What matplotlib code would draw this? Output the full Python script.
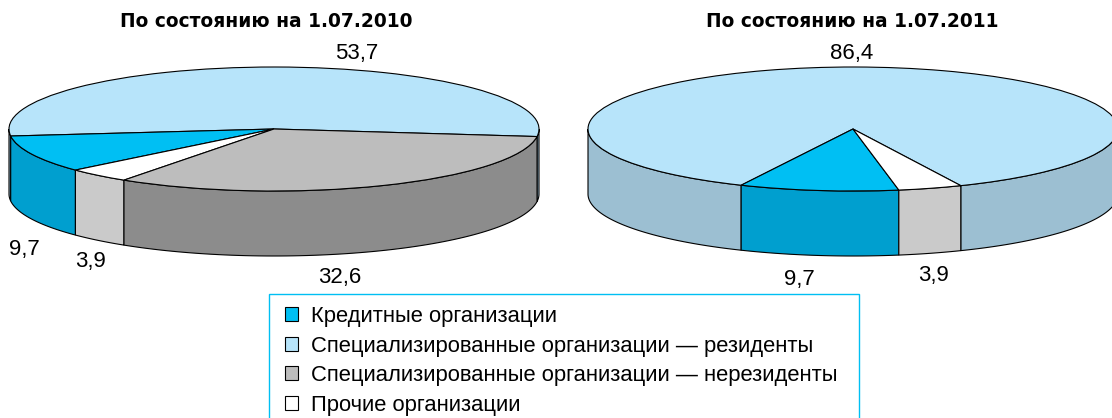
#!/usr/bin/env python3
# -*- coding: utf-8 -*-

import numpy as np
import matplotlib
matplotlib.use('Agg')
import matplotlib.pyplot as plt
from matplotlib.patches import Patch, Rectangle

# Data
categories = ['Кредитные организации',
              'Специализированные организации — резиденты',
              'Специализированные организации — нерезиденты',
              'Прочие организации']
shares_2010 = [9.7, 53.7, 32.6, 3.9]
shares_2011 = [9.7, 86.4, 0, 3.9]
title_2010 = 'По состоянию на 1.07.2010'
title_2011 = 'По состоянию на 1.07.2011'

top_colors = ['#00BFF3', '#B7E4FA', '#BDBDBD', '#FFFFFF']
wall_colors = ['#009FCF', '#9CBFD2', '#8C8C8C', '#CACACA']

W, H = 1112, 418
RX, RY, DEPTH = 265, 62, 65
# pie runs counterclockwise: residents, credit, others, non-residents
PIE_ORDER = [1, 0, 3, 2]

plt.rcParams['font.family'] = ['Liberation Sans', 'DejaVu Sans']
fig = plt.figure(figsize=(W / 100, H / 100), dpi=100)


def put_text(x, y, s, **kw):
    fig.text(x / W, 1 - y / H, s, ha='center', va='center', **kw)


def draw_pie(cx, cy, values, start):
    # axes in which the unit circle comes out as the flattened top of the pie
    y_low = -1 - DEPTH / RY - 0.05
    left = cx - RX * 1.02
    bottom = H - cy + y_low * RY
    ax = fig.add_axes([left / W, bottom / H, RX * 2.04 / W, (1.05 - y_low) * RY / H])
    order = [i for i in PIE_ORDER if values[i] > 0]
    vals = [values[i] for i in order]
    ax.pie(vals, startangle=start, colors=[top_colors[i] for i in order],
           radius=1, normalize=True,
           wedgeprops=dict(edgecolor='black', linewidth=0.8, zorder=3))

    # side wall, only the part of each slice facing the viewer
    a0 = start
    for i, v in zip(order, vals):
        a1 = a0 + 360 * v / sum(vals)
        for base in (-360, 0, 360):
            lo, hi = max(a0, 180 + base), min(a1, 360 + base)
            if hi > lo:
                t = np.radians(np.linspace(lo, hi, 80))
                xs = np.r_[np.cos(t), np.cos(t[::-1])]
                ys = np.r_[np.sin(t), np.sin(t[::-1]) - DEPTH / RY]
                ax.fill(xs, ys, facecolor=wall_colors[i], edgecolor='black',
                        linewidth=0.8, zorder=2)
        a0 = a1

    ax.set_aspect('auto')
    ax.set_xlim(-1.02, 1.02)
    ax.set_ylim(y_low, 1.05)
    ax.axis('off')


def fmt(v):
    return f'{v:.1f}'.replace('.', ',')


draw_pie(274, 129, shares_2010, -7)
draw_pie(853, 129, shares_2011, -66)

# Titles
put_text(266, 21.5, title_2010, fontsize=13.4, fontweight='bold', family='DejaVu Sans')
put_text(852, 21.5, title_2011, fontsize=13.4, fontweight='bold', family='DejaVu Sans')

# Value labels
put_text(24, 250, fmt(shares_2010[0]), fontsize=16)
put_text(357, 54, fmt(shares_2010[1]), fontsize=16)
put_text(340, 278, fmt(shares_2010[2]), fontsize=16)
put_text(90, 262, fmt(shares_2010[3]), fontsize=16)
put_text(799, 279, fmt(shares_2011[0]), fontsize=16)
put_text(852, 54, fmt(shares_2011[1]), fontsize=16)
put_text(933, 276, fmt(shares_2011[3]), fontsize=16)

# Legend box runs off the bottom of the picture, so it is drawn apart
fig.add_artist(Rectangle((269 / W, -0.1), 590 / W, 1.1 - 294 / H,
                         transform=fig.transFigure, facecolor='white',
                         edgecolor='#00BFF3', linewidth=1))
handles = [Patch(facecolor=c, edgecolor='black', linewidth=0.8) for c in top_colors]
fig.legend(handles, categories, loc='upper left',
           bbox_to_anchor=(285 / W, 1 - 306 / H), borderaxespad=0,
           fontsize=15.8, frameon=False, borderpad=0,
           handlelength=0.6, handleheight=0.6, handletextpad=0.6,
           labelspacing=0.39)

fig.savefig('out.png', dpi=100)
